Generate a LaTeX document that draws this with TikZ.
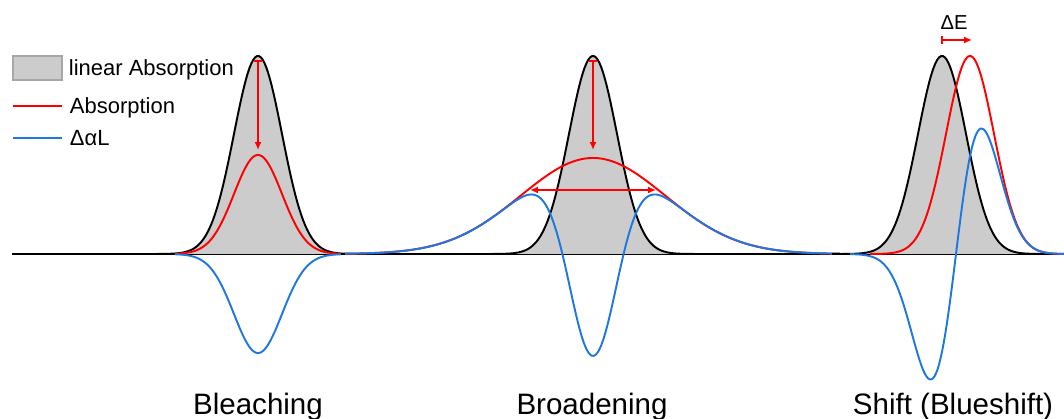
\documentclass[tikz,border=0pt]{standalone}
\usepackage{fontspec}
\setmainfont{Liberation Sans}
\usetikzlibrary{arrows.meta}
\definecolor{absblue}{RGB}{31,119,225}
\definecolor{lingray}{RGB}{204,204,204}

\begin{document}
\begin{tikzpicture}[>={Latex[length=4.5pt, width=4pt]}, line width=1.1pt,
  linabs/.style={draw=black, fill=lingray},
  absline/.style={red},
  dline/.style={absblue},
  redarrow/.style={red, line width=1pt, {Bar[width=4pt]}->},
  panellabel/.style={font=\fontsize{16.8}{20}\selectfont, anchor=base, inner sep=0pt},
  legendtext/.style={font=\fontsize{12.5}{15}\selectfont, anchor=base west, inner sep=0pt}]

  \useasboundingbox (0,-3.3) rectangle (21.28,5.08);

  % Baseline
  \draw[line width=1pt] (0.24,0) -- (21.28,0);

  % Legend
  \draw[fill=lingray, draw=gray!70, line width=0.8pt] (0.26,3.48) rectangle (1.24,3.96);
  \node (leglin) [legendtext] at (1.36,3.56) {linear Absorption};
  \draw[absline, line width=0.85pt] (0.26,2.96) -- (1.24,2.96);
  \node (legabs) [legendtext] at (1.38,2.80) {Absorption};
  \draw[dline, line width=0.85pt] (0.26,2.32) -- (1.24,2.32);
  \node (legdiff) [legendtext] at (1.38,2.16) {ΔαL};

  % Bleaching: peak drops to half
  \draw[linabs] plot[domain=2.96:7.36, samples=120] (\x, {3.96*exp(-(\x-5.16)*(\x-5.16)/0.4608)});
  \draw[absline] plot[domain=3.5:6.82, samples=120] (\x, {1.98*exp(-(\x-5.16)*(\x-5.16)/0.4608)});
  \draw[dline] plot[domain=3.5:6.82, samples=120] (\x, {-1.98*exp(-(\x-5.16)*(\x-5.16)/0.4608)});
  \coordinate (bleachtop) at (5.16,3.88);
  \coordinate (bleachbot) at (5.16,2.08);
  \draw[redarrow] (bleachtop) -- (bleachbot);
  \node (bleaching) [panellabel] at (5.16,-3.22) {Bleaching};

  % Broadening: lower and wider peak
  \draw[linabs] plot[domain=9.66:14.06, samples=120] (\x, {3.96*exp(-(\x-11.86)*(\x-11.86)/0.4608)});
  \draw[absline] plot[domain=6.9:16.8, samples=200] (\x, {1.92*exp(-(\x-11.86)*(\x-11.86)/4.2)});
  \draw[dline] plot[domain=6.9:16.8, samples=200]
    (\x, {1.92*exp(-(\x-11.86)*(\x-11.86)/4.2) - 3.96*exp(-min(40,(\x-11.86)*(\x-11.86)/0.4608))});
  \coordinate (broadtop) at (11.86,3.88);
  \coordinate (broadbot) at (11.86,2.08);
  \draw[redarrow] (broadtop) -- (broadbot);
  \coordinate (broadleft) at (10.6,1.28);
  \coordinate (broadright) at (13.12,1.28);
  \draw[red, line width=1pt, <->] (broadleft) -- (broadright);
  \node (broadening) [panellabel] at (11.84,-3.22) {Broadening};

  % Shift: same peak moved to higher energy
  \draw[linabs] plot[domain=16.64:21.04, samples=120] (\x, {3.96*exp(-(\x-18.84)*(\x-18.84)/0.4608)});
  \draw[absline] plot[domain=17.4:21.28, samples=120] (\x, {3.96*exp(-(\x-19.40)*(\x-19.40)/0.4608)});
  \draw[dline] plot[domain=17.0:21.28, samples=160]
    (\x, {3.96*exp(-min(40,(\x-19.40)*(\x-19.40)/0.4608)) - 3.96*exp(-min(40,(\x-18.84)*(\x-18.84)/0.4608))});
  \coordinate (shiftfrom) at (18.82,4.28);
  \coordinate (shiftto) at (19.44,4.28);
  \draw[redarrow] (shiftfrom) -- (shiftto);
  \node (deltaE) [font=\fontsize{11.5}{14}\selectfont, anchor=base, inner sep=0pt] at (19.08,4.48) {ΔE};
  \node (shift) [panellabel] at (19.06,-3.22) {Shift (Blueshift)};

\end{tikzpicture}
\end{document}
